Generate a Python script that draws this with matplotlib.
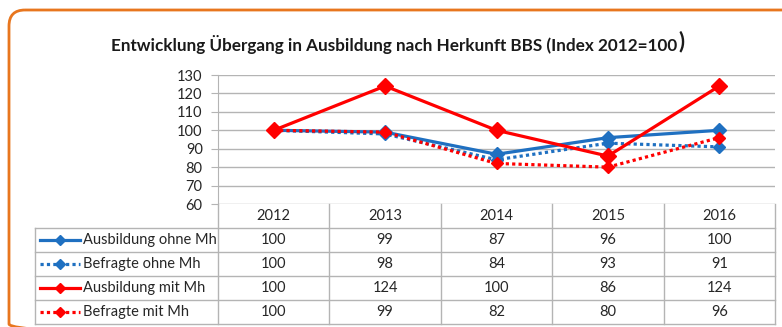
import matplotlib
matplotlib.use('Agg')
from matplotlib import pyplot as plt
from matplotlib.patches import FancyBboxPatch

# data: index values, 2012 = 100
years = ['2012', '2013', '2014', '2015', '2016']
series_names = ['Ausbildung ohne Mh', 'Befragte ohne Mh',
                'Ausbildung mit Mh', 'Befragte mit Mh']
ausb_ohne = [100, 99, 87, 96, 100]
befr_ohne = [100, 98, 84, 93, 91]
ausb_mit = [100, 124, 100, 86, 124]
befr_mit = [100, 99, 82, 80, 96]
y_ticks = [60, 70, 80, 90, 100, 110, 120, 130]

blue = '#1F70C1'
red = '#FF0000'
grid_col = '#B4B4B4'
orange = '#E8761E'
font = 'Lato'

plt.rcParams['font.family'] = [font, 'DejaVu Sans']

W, H = 782, 327
fig = plt.figure(figsize=(W / 100, H / 100), dpi=100, facecolor='w')

# full-figure overlay in pixel coordinates for frame, title and table
ov = fig.add_axes([0, 0, 1, 1])
ov.set_xlim(0, W)
ov.set_ylim(H, 0)
ov.axis('off')

frame = FancyBboxPatch((9, 10), 790, 330, boxstyle='round,pad=0,rounding_size=16',
                       fc='none', ec=orange, lw=2.0, clip_on=False)
ov.add_patch(frame)

ov.text(677, 44, 'Entwicklung Übergang in Ausbildung nach Herkunft BBS (Index 2012=100',
        ha='right', va='center', fontsize=12.3, fontweight='bold', color='#1A1A1A')
ov.text(678, 42, ')', ha='left', va='center', fontsize=16, fontweight='bold',
        color='#1A1A1A')

# plot area
x0, x1 = 218, 775
y_top, y_bot = 75, 204
ax = fig.add_axes([x0 / W, 1 - y_bot / H, (x1 - x0) / W, (y_bot - y_top) / H])
ax.patch.set_alpha(0)
xs = list(range(len(years)))

styles = [
    (ausb_ohne, blue, '-', 7.5),
    (befr_ohne, blue, (0, (1, 1)), 6.5),
    (ausb_mit, red, '-', 8.5),
    (befr_mit, red, (0, (1, 1)), 6.5),
]
for vals, col, ls, ms in styles:
    ax.plot(xs, vals, color=col, ls=ls, lw=2.3, marker='D', ms=ms,
            mfc=col, mec=col, clip_on=False, zorder=3)

ax.set_xlim(-0.5, len(years) - 0.5)
ax.set_ylim(60, 130)
ax.set_yticks(y_ticks)
ax.set_xticks([])
ax.yaxis.grid(True, color=grid_col, lw=1)
ax.set_axisbelow(True)
for s in ['top', 'right', 'bottom']:
    ax.spines[s].set_visible(False)
ax.spines['left'].set_color(grid_col)
ax.tick_params(axis='y', length=5, color=grid_col, labelsize=10.5,
               labelcolor='#262626', pad=6)

# data table below the plot
col_w = (x1 - x0) / len(years)
row_h = 24
rows_y = [y_bot + row_h * (i + 1) for i in range(len(series_names) + 1)]
tab_left = 35
tab_bot = rows_y[-1]

for i in range(len(years) + 1):
    xv = x0 + i * col_w
    ov.plot([xv, xv], [y_bot, tab_bot], color=grid_col, lw=1)
ov.plot([tab_left, tab_left], [rows_y[0], tab_bot], color=grid_col, lw=1)
for yv in rows_y:
    ov.plot([tab_left, x1], [yv, yv], color=grid_col, lw=1)

for i, yr in enumerate(years):
    ov.text(x0 + (i + 0.5) * col_w, y_bot + row_h / 2, yr, ha='center',
            va='center', fontsize=10.5, color='#262626')

for r, ((vals, col, ls, ms), name) in enumerate(zip(styles, series_names)):
    yc = rows_y[r] + row_h / 2
    ov.plot([40, 80], [yc, yc], color=col, ls=ls, lw=2.3)
    ov.plot([60], [yc], marker='D', ms=5.5, color=col)
    ov.text(83, yc, name, ha='left', va='center', fontsize=10.5, color='#262626')
    for i, v in enumerate(vals):
        ov.text(x0 + (i + 0.5) * col_w, yc, str(v), ha='center', va='center',
                fontsize=10.5, color='#262626')

fig.savefig('out.png', dpi=100, facecolor='w')
